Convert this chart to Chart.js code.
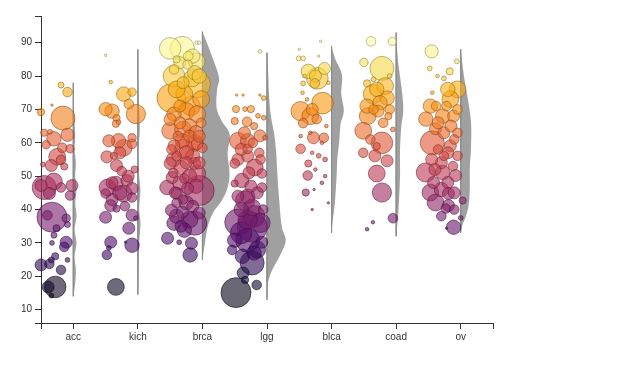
<!DOCTYPE html>
<html>
<head>
<meta charset="utf-8">
<script src="https://cdn.jsdelivr.net/npm/chart.js@4.4.1/dist/chart.umd.min.js"></script>
<style>
  html, body { margin: 0; background: #fff; }
  #wrap { width: 640px; height: 384px; }
</style>
</head>
<body>
<div id="wrap"><canvas id="chart" width="640" height="384"></canvas></div>
<script>
// categories along the x axis
const cancerTypes = ['acc', 'kich', 'brca', 'lgg', 'blca', 'coad', 'ov'];
const yTickValues = [10, 20, 30, 40, 50, 60, 70, 80, 90];

// bubbles per category: [jitter (category units), value, size]
const accPts = [
  [-0.19, 77.3, 2.5], [-0.09, 75.2, 4], [-0.5, 69.2, 3], [-0.16, 67.4, 10], [-0.33, 71.3, 1],
  [-0.45, 63, 3], [-0.36, 63.3, 2], [-0.3, 61.2, 6], [-0.09, 62.4, 5.5], [-0.42, 59.4, 3.5],
  [-0.17, 58.5, 4], [-0.05, 58.2, 3.5], [-0.25, 55.8, 7], [-0.19, 54.9, 4], [-0.34, 53.2, 5],
  [-0.14, 52.9, 3], [-0.47, 53.5, 2], [-0.45, 46.6, 10], [-0.5, 47.2, 5], [-0.37, 44.8, 5],
  [-0.3, 48.4, 7], [-0.19, 46.6, 4], [-0.02, 47.2, 5], [-0.05, 44.2, 4], [-0.33, 37.7, 12.5],
  [-0.4, 38.3, 4], [-0.11, 37.4, 3.5], [-0.26, 34.4, 3], [-0.09, 35.5, 2.5], [-0.11, 30.2, 5],
  [-0.14, 28.8, 4], [-0.3, 32.3, 2.5], [-0.33, 30, 2], [-0.28, 26, 3], [-0.34, 24.9, 2.5],
  [-0.37, 23.7, 4], [-0.5, 23.4, 5], [-0.19, 21.9, 4], [-0.09, 24.9, 2], [-0.28, 16.8, 9],
  [-0.39, 16.8, 5], [-0.34, 14.2, 2]
];
const kichPts = [
  [-0.5, 86.2, 1], [-0.42, 78.2, 1.5], [-0.22, 74.6, 6], [-0.09, 75.2, 3.5], [-0.14, 71.6, 4],
  [-0.5, 70.1, 5.5], [-0.4, 69.5, 6], [-0.03, 68.6, 8], [-0.33, 67.4, 3], [-0.34, 65.7, 3],
  [-0.3, 66.2, 2], [-0.45, 60.6, 5], [-0.3, 60.6, 6], [-0.22, 58.5, 7], [-0.09, 61.5, 3.5],
  [-0.09, 59.7, 4], [-0.48, 55.8, 5], [-0.37, 56.1, 3], [-0.33, 53.2, 5], [-0.47, 46.6, 7],
  [-0.34, 47.8, 6], [-0.22, 44.8, 7], [-0.17, 48.7, 5], [-0.09, 46.3, 5], [-0.09, 43.6, 4],
  [-0.5, 44.8, 4], [-0.42, 41.2, 5], [-0.33, 40.3, 3], [-0.5, 37.7, 5], [-0.09, 38.3, 5],
  [-0.14, 34.4, 5], [-0.03, 37.4, 2], [-0.42, 30.2, 5], [-0.09, 29.3, 6], [-0.48, 26.4, 4],
  [-0.45, 28.5, 2], [-0.19, 30.2, 1], [-0.34, 16.8, 7], [-0.25, 51.5, 4], [-0.4, 43, 5],
  [-0.28, 45, 6], [-0.15, 50, 5], [-0.4, 48, 5], [-0.2, 41, 4], [-0.28, 57, 5], [-0.05, 52, 3]
];
const brcaPts = [
  [-0.5, 88.3, 9], [-0.31, 88.3, 10], [-0.09, 84.4, 7], [-0.09, 90, 1.5], [-0.05, 90, 1.5],
  [-0.44, 82, 4], [-0.23, 83.5, 4], [-0.44, 80, 9], [-0.16, 79.3, 7], [-0.08, 77.5, 11],
  [-0.48, 73.4, 12], [-0.28, 74.6, 7], [-0.02, 73.1, 7], [-0.25, 69.5, 7], [-0.08, 68.6, 7],
  [-0.44, 68.6, 6], [-0.5, 63.6, 7], [-0.31, 60.6, 6], [-0.28, 58.2, 8], [-0.08, 59.7, 5],
  [-0.44, 59.1, 5], [0, 58.5, 4], [-0.5, 53.8, 5], [-0.33, 52.6, 6], [-0.12, 53.8, 5],
  [-0.08, 50.8, 7], [-0.47, 49.6, 5], [-0.28, 49.3, 4], [-0.55, 46.6, 6], [-0.05, 45.7, 12.5],
  [-0.23, 46.3, 5], [-0.39, 44.8, 5], [-0.48, 39.8, 5], [-0.31, 39.2, 5], [-0.12, 35.9, 10],
  [-0.44, 35.9, 6], [-0.28, 33.8, 6], [-0.54, 31.4, 5], [-0.17, 29.9, 5], [-0.36, 30.2, 2],
  [-0.19, 26.4, 6], [-0.2, 65, 6], [-0.35, 66, 5], [-0.15, 56, 6], [-0.4, 56, 4],
  [-0.2, 62, 5], [-0.35, 71, 5], [-0.12, 81, 6], [-0.3, 78, 5], [-0.1, 63, 6],
  [-0.45, 51, 4], [-0.3, 43, 4], [-0.15, 41, 5], [-0.4, 42, 4], [-0.25, 54, 5],
  [-0.38, 62, 4], [-0.02, 66, 4], [-0.05, 54, 5], [-0.48, 58, 4], [-0.22, 86, 4],
  [-0.4, 85, 3], [-0.4, 76, 7], [-0.18, 71, 8], [-0.05, 80, 6], [-0.3, 64, 7],
  [-0.12, 60, 7], [-0.45, 55, 6], [-0.2, 50, 6], [-0.35, 48, 6], [-0.1, 47, 6],
  [-0.4, 38, 6], [-0.2, 37, 7], [-0.05, 39, 5], [-0.33, 35, 5], [-0.5, 67, 5],
  [-0.15, 86, 6], [-0.35, 84, 5], [-0.25, 57, 6], [-0.05, 62, 5], [-0.42, 45, 5],
  [-0.25, 42, 6]
];
const lggPts = [
  [-0.11, 87.4, 1.5], [-0.47, 74.3, 1], [-0.37, 74.3, 1], [-0.11, 74.3, 1], [-0.05, 73.4, 2],
  [-0.48, 70.1, 3], [-0.34, 70.1, 2], [-0.25, 70.1, 3], [-0.5, 66.5, 3], [-0.31, 66.3, 4],
  [-0.14, 68.1, 2], [-0.05, 67.5, 2], [-0.45, 60.6, 7], [-0.3, 60.6, 6], [-0.11, 62.1, 5],
  [-0.3, 58.2, 4], [-0.03, 61.5, 2], [-0.5, 53.8, 4], [-0.19, 52.6, 7], [-0.39, 48.7, 6],
  [-0.5, 47.8, 3], [-0.08, 50.8, 4], [-0.08, 46.6, 4], [-0.34, 42.7, 8], [-0.23, 40.6, 7],
  [-0.45, 36.2, 11], [-0.23, 34.7, 12.5], [-0.3, 30.8, 10], [-0.5, 30.8, 6], [-0.08, 30.2, 5],
  [-0.54, 27.9, 4], [-0.23, 24, 10], [-0.37, 21, 5], [-0.16, 17.4, 4], [-0.34, 18.9, 3],
  [-0.48, 15.1, 12.5], [-0.3, 44, 6], [-0.2, 38, 9], [-0.4, 40, 6], [-0.15, 45, 5],
  [-0.45, 55, 5], [-0.3, 56, 5], [-0.12, 57, 4], [-0.35, 63, 5], [-0.2, 65, 3],
  [-0.06, 40, 4], [-0.4, 33, 9], [-0.1, 36, 8], [-0.3, 37, 8], [-0.15, 28, 7],
  [-0.38, 26, 6], [-0.25, 47, 5], [-0.45, 44, 5], [-0.1, 55, 4], [-0.4, 58, 5],
  [-0.22, 60, 4], [-0.28, 51, 5], [-0.2, 27, 6]
];
const blcaPts = [
  [-0.17, 90.4, 1], [-0.51, 85.3, 2], [-0.44, 85.3, 2], [-0.36, 81.4, 6], [-0.11, 82.3, 5],
  [-0.22, 79.3, 9], [-0.26, 77.8, 4], [-0.44, 77.8, 2], [-0.14, 71.9, 9], [-0.48, 69.5, 8],
  [-0.33, 68, 7], [-0.23, 67.1, 4], [-0.44, 65.9, 4], [-0.28, 61.5, 5], [-0.12, 61.5, 4],
  [-0.48, 58.2, 4], [-0.36, 53.8, 3], [-0.2, 56.1, 2], [-0.37, 50.2, 4], [-0.4, 45.1, 3],
  [-0.15, 60, 1.5], [-0.3, 57, 1.5], [-0.1, 55, 2], [-0.45, 75, 1.5], [-0.38, 73, 1.5],
  [-0.05, 78, 1.5], [-0.25, 52, 1.5], [-0.15, 48, 1.5], [-0.33, 63, 1.5], [-0.42, 80, 1.5],
  [-0.08, 65, 1.5], [-0.48, 62, 1.5], [-0.05, 42, 1], [-0.3, 40, 1], [-0.2, 86, 1],
  [-0.5, 88, 1], [-0.1, 50, 1.5], [-0.27, 46, 1], [-0.3, 70, 5], [-0.25, 80, 5]
];
const coadPts = [
  [-0.39, 90.4, 4], [-0.06, 90.4, 3.5], [-0.5, 84.1, 3.5], [-0.22, 82.3, 10], [-0.45, 77.8, 3],
  [-0.17, 77, 7], [-0.36, 74.6, 8], [-0.14, 73.4, 6], [-0.45, 71, 6], [-0.28, 69.5, 5],
  [-0.44, 68, 7], [-0.12, 68, 3], [-0.51, 63.6, 7], [-0.22, 60, 9], [-0.51, 57, 4],
  [-0.33, 56.1, 5], [-0.14, 54.6, 5], [-0.3, 50.8, 7], [-0.22, 45.1, 8], [-0.05, 37.4, 4],
  [-0.36, 36.2, 1.5], [-0.45, 34.1, 1.5], [-0.1, 80, 2], [-0.35, 79, 2], [-0.05, 64, 2],
  [-0.2, 66, 4], [-0.3, 59, 3], [-0.3, 76, 6], [-0.25, 72, 6], [-0.35, 70, 4],
  [-0.1, 70, 4], [-0.4, 61, 4]
];
const ovPts = [
  [-0.45, 87.4, 5.5], [-0.06, 84.4, 2], [-0.48, 82.3, 2], [-0.17, 81.4, 3], [-0.26, 79.3, 2],
  [-0.36, 80, 1.5], [-0.44, 75, 1.5], [-0.2, 76, 6], [-0.05, 76, 7], [-0.16, 73.1, 7],
  [-0.47, 71, 6], [-0.54, 67.1, 6], [-0.28, 68, 6], [-0.11, 68, 5], [-0.39, 64.2, 5],
  [-0.26, 63, 5], [-0.44, 60, 10], [-0.05, 63, 4], [-0.16, 59.1, 5], [-0.26, 56.1, 4],
  [-0.05, 56.1, 4], [-0.54, 51.1, 8], [-0.28, 51.1, 6], [-0.08, 50.2, 5], [-0.42, 48.1, 5],
  [-0.2, 48.1, 5], [-0.47, 45.1, 7], [-0.19, 44.8, 5], [-0.39, 42.1, 7], [-0.19, 41.2, 5],
  [0.03, 42.7, 3], [-0.11, 34.7, 6], [-0.23, 40.3, 4], [0, 37.5, 2], [-0.22, 34.4, 1],
  [-0.3, 54, 5], [-0.12, 53, 4], [-0.35, 58, 4], [-0.1, 61, 4], [-0.38, 71, 4],
  [-0.22, 71, 4], [-0.3, 46, 6], [-0.1, 45, 5], [-0.45, 55, 5], [-0.2, 57, 5],
  [-0.35, 66, 5], [-0.15, 65, 5], [-0.05, 70, 4], [-0.3, 38, 4], [-0.1, 40, 4],
  [-0.4, 52, 5]
];
const categoryPts = [accPts, kichPts, brcaPts, lggPts, blcaPts, coadPts, ovPts];

// half-violin outlines: value levels and widths (category units)
const accViolinY = [78, 70, 62, 58, 54, 50, 46, 42, 38, 34, 30, 26, 22, 18, 14];
const accViolinW = [0, 0.01, 0.03, 0.02, 0.04, 0.03, 0.05, 0.03, 0.05, 0.02, 0.05, 0.02, 0.04, 0.03, 0];
const kichViolinY = [88, 75, 64, 58, 50, 46, 40, 36, 30, 20, 14.5];
const kichViolinW = [0, 0.01, 0.03, 0.01, 0.02, 0.04, 0.02, 0.04, 0.02, 0.01, 0];
const brcaViolinY = [93.3, 90.4, 85.3, 79.3, 76.4, 70.4, 66.5, 62.7, 56.7, 50.8, 46.6, 42.7, 38.9, 34.7, 28.8, 24.9];
const brcaViolinW = [0, 0.06, 0.16, 0.26, 0.23, 0.22, 0.3, 0.42, 0.39, 0.42, 0.39, 0.3, 0.16, 0.08, 0.03, 0];
const lggViolinY = [87, 80, 74.6, 68, 62.7, 57.6, 50.8, 42.7, 34.7, 30.8, 27, 21, 17.4, 13];
const lggViolinW = [0, 0.02, 0.03, 0.06, 0.11, 0.14, 0.16, 0.19, 0.23, 0.29, 0.22, 0.06, 0.01, 0];
const blcaViolinY = [89, 87.4, 85, 80.5, 74.6, 69.5, 65.7, 60.6, 55.5, 50.8, 41.8, 35.3, 33];
const blcaViolinW = [0, 0.02, 0.06, 0.16, 0.15, 0.19, 0.14, 0.12, 0.09, 0.08, 0.05, 0.01, 0];
const coadViolinY = [93, 84.4, 75.5, 69.5, 65, 57.6, 50, 38, 32];
const coadViolinW = [0, 0.03, 0.09, 0.11, 0.08, 0.06, 0.06, 0.03, 0];
const ovViolinY = [88, 80, 72, 66, 59, 52, 46, 41, 38, 35, 33];
const ovViolinW = [0, 0.05, 0.12, 0.16, 0.16, 0.14, 0.14, 0.12, 0.08, 0.02, 0];
const violinY = [accViolinY, kichViolinY, brcaViolinY, lggViolinY, blcaViolinY, coadViolinY, ovViolinY];
const violinW = [accViolinW, kichViolinW, brcaViolinW, lggViolinW, blcaViolinW, coadViolinW, ovViolinW];

// thin vertical line extent per category
const stemTop = [78, 88, 93.3, 87, 89, 93, 88];
const stemBottom = [14, 14.5, 24.9, 13, 33, 32, 33];

const fontFamily = "'Liberation Sans', Arial, sans-serif";
const radiusScale = 1.2; // biggest bubble stays at 15px so the layout padding is not pushed

// inferno colour ramp
const infernoStops = [
  [0, 0, 4], [22, 11, 57], [66, 10, 104], [106, 23, 110], [147, 38, 103],
  [188, 55, 84], [221, 81, 58], [243, 120, 25], [252, 165, 10], [246, 215, 70], [252, 255, 164]
];
function inferno(t) {
  t = Math.min(1, Math.max(0, t)) * (infernoStops.length - 1);
  const i = Math.min(infernoStops.length - 2, Math.floor(t));
  const f = t - i;
  const a = infernoStops[i], b = infernoStops[i + 1];
  return [0, 1, 2].map(k => Math.round(a[k] + (b[k] - a[k]) * f));
}
function valueColor(v, alpha, dark) {
  const c = inferno((v - 12) / 78).map(x => Math.round(x * dark));
  return `rgba(${c[0]}, ${c[1]}, ${c[2]}, ${alpha})`;
}

const datasets = [];

// violins (drawn first)
violinY.forEach((ys, i) => {
  datasets.push({
    type: 'line',
    data: ys.map((y, k) => ({ x: i + violinW[i][k], y: y })),
    fill: 'shape',
    backgroundColor: 'rgba(128, 128, 128, 0.75)',
    borderWidth: 0,
    pointRadius: 0,
    tension: 0.35,
    order: 3
  });
});

// stems
cancerTypes.forEach((name, i) => {
  datasets.push({
    type: 'line',
    data: [{ x: i, y: stemTop[i] }, { x: i, y: stemBottom[i] }],
    borderColor: 'rgba(140, 140, 140, 0.9)',
    borderWidth: 1,
    pointRadius: 0,
    fill: false,
    order: 2
  });
});

// bubbles, small ones on top
categoryPts.forEach((pts, i) => {
  const sorted = pts.slice().sort((a, b) => b[2] - a[2]);
  datasets.push({
    type: 'bubble',
    label: cancerTypes[i],
    data: sorted.map(p => ({ x: i + p[0], y: p[1], r: p[2] * radiusScale })),
    backgroundColor: ctx => valueColor(ctx.raw.y, 0.6, 1),
    borderColor: ctx => valueColor(ctx.raw.y, 0.55, 0.55),
    borderWidth: 1,
    clip: false,
    order: 0
  });
});

new Chart(document.getElementById('chart'), {
  type: 'bubble',
  data: { datasets: datasets },
  options: {
    responsive: false,
    animation: false,
    events: [],
    layout: { padding: { top: 15, right: 147, left: 0, bottom: 0 } },
    plugins: { legend: { display: false }, tooltip: { enabled: false } },
    scales: {
      x: {
        type: 'linear',
        min: -0.5,
        max: 6.5,
        afterBuildTicks: s => { s.ticks = [-0.5, 0, 1, 2, 3, 4, 5, 6, 6.5].map(v => ({ value: v })); },
        afterFit: s => { s.height = 61; },
        ticks: {
          autoSkip: false,
          maxRotation: 0,
          padding: 2,
          color: '#333',
          font: { family: fontFamily, size: 10 },
          callback: v => Number.isInteger(v) ? cancerTypes[v] : ''
        },
        grid: { drawOnChartArea: false, tickLength: 6, color: '#333' },
        border: { color: '#333', width: 1 }
      },
      y: {
        type: 'linear',
        min: 6,
        max: 98,
        afterBuildTicks: s => { s.ticks = [6].concat(yTickValues, [98]).map(v => ({ value: v })); },
        afterFit: s => { s.width = 41; },
        ticks: {
          autoSkip: false,
          padding: 3,
          color: '#333',
          font: { family: fontFamily, size: 10 },
          callback: v => yTickValues.includes(v) ? String(v) : ''
        },
        grid: { drawOnChartArea: false, tickLength: 6, color: '#333' },
        border: { color: '#333', width: 1 }
      }
    }
  }
});
</script>
</body>
</html>
